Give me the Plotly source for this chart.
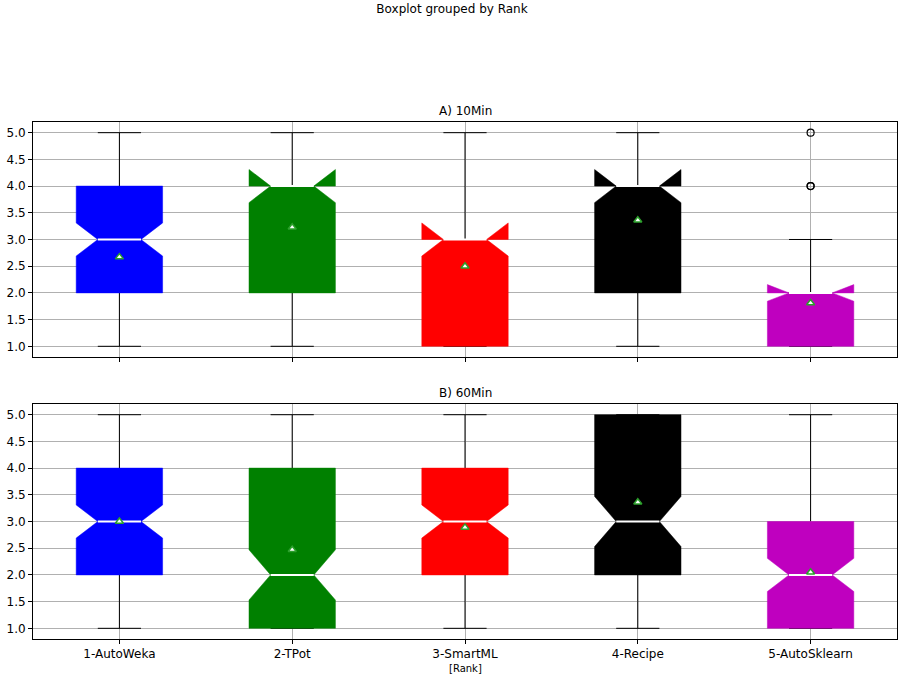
import plotly.graph_objects as go

categories = ["1-AutoWeka", "2-TPot", "3-SmartML", "4-Recipe", "5-AutoSklearn"]
positions = [1, 2, 3, 4, 5]
colors = ["#0000ff", "#008000", "#ff0000", "#000000", "#bf00bf"]
panel_titles = ["A) 10Min", "B) 60Min"]

# A) 10Min statistics
q1_10 = [2, 2, 1, 2, 1]
med_10 = [3, 4, 3, 4, 2]
q3_10 = [4, 4, 3, 4, 2]
wlo_10 = [1, 1, 1, 1, 1]
whi_10 = [5, 5, 5, 5, 3]
nlo_10 = [2.69, 3.69, 2.69, 3.69, 1.845]
nhi_10 = [3.31, 4.31, 3.31, 4.31, 2.155]
mean_10 = [2.67, 3.23, 2.50, 3.36, 1.81]
out_10 = [[], [], [], [], [4, 4, 5]]

# B) 60Min statistics
q1_60 = [2, 1, 2, 2, 1]
med_60 = [3, 2, 3, 3, 2]
q3_60 = [4, 4, 4, 5, 3]
wlo_60 = [1, 1, 1, 1, 1]
whi_60 = [5, 5, 5, 5, 5]
nlo_60 = [2.69, 1.53, 2.69, 2.53, 1.69]
nhi_60 = [3.31, 2.47, 3.31, 3.47, 2.31]
mean_60 = [3.00, 2.47, 2.89, 3.36, 2.05]
out_60 = [[], [], [], [], []]

panels = [
    (q1_10, med_10, q3_10, wlo_10, whi_10, nlo_10, nhi_10, mean_10, out_10),
    (q1_60, med_60, q3_60, wlo_60, whi_60, nlo_60, nhi_60, mean_60, out_60),
]

HALF = 0.25     # half box width
INSET = 0.125   # notch inset
CAP = 0.125     # half cap width

fig = go.Figure()

for pi, (q1, med, q3, wlo, whi, nlo, nhi, mean, outs) in enumerate(panels):
    xa = "x" if pi == 0 else "x2"
    ya = "y" if pi == 0 else "y2"
    # whiskers and caps
    wx, wy = [], []
    for i, p in enumerate(positions):
        wx += [p, p, None, p, p, None, p - CAP, p + CAP, None, p - CAP, p + CAP, None]
        wy += [q1[i], wlo[i], None, q3[i], whi[i], None, wlo[i], wlo[i], None, whi[i], whi[i], None]
    fig.add_trace(go.Scatter(x=wx, y=wy, mode="lines", line=dict(color="black", width=1),
                             xaxis=xa, yaxis=ya, hoverinfo="skip", showlegend=False))
    # notched boxes
    for i, p in enumerate(positions):
        L, R = p - HALF, p + HALF
        bx = [L, L, L + INSET, L, L, R, R, R - INSET, R, R, L]
        by = [q1[i], nlo[i], med[i], nhi[i], q3[i], q3[i], nhi[i], med[i], nlo[i], q1[i], q1[i]]
        fig.add_trace(go.Scatter(x=bx, y=by, mode="lines", fill="toself",
                                 fillcolor=colors[i], line=dict(color=colors[i], width=0.5),
                                 xaxis=xa, yaxis=ya, name=categories[i], showlegend=False))
    # medians
    mx, my = [], []
    for i, p in enumerate(positions):
        mx += [p - HALF + INSET, p + HALF - INSET, None]
        my += [med[i], med[i], None]
    fig.add_trace(go.Scatter(x=mx, y=my, mode="lines", line=dict(color="white", width=2),
                             xaxis=xa, yaxis=ya, hoverinfo="skip", showlegend=False))
    # means
    fig.add_trace(go.Scatter(x=positions, y=mean, mode="markers",
                             marker=dict(symbol="triangle-up", size=7, color="white",
                                         line=dict(color="#2ca02c", width=1.5)),
                             xaxis=xa, yaxis=ya, showlegend=False))
    # outliers
    ox, oy = [], []
    for i, p in enumerate(positions):
        for v in outs[i]:
            ox.append(p)
            oy.append(v)
    if ox:
        fig.add_trace(go.Scatter(x=ox, y=oy, mode="markers",
                                 marker=dict(symbol="circle-open", size=7, color="black",
                                             line=dict(width=1.2)),
                                 xaxis=xa, yaxis=ya, showlegend=False))

axis_common = dict(showline=True, linecolor="black", linewidth=1, mirror=True,
                   showgrid=True, gridcolor="#b0b0b0", gridwidth=1,
                   ticks="outside", ticklen=4, tickcolor="black", zeroline=False,
                   tickfont=dict(family="DejaVu Sans", size=12, color="black"))

fig.update_layout(
    width=904, height=680,
    margin=dict(l=33, r=7, t=122, b=41),
    paper_bgcolor="white", plot_bgcolor="white",
    font=dict(family="DejaVu Sans", color="black"),
    xaxis=dict(domain=[0, 1], anchor="y", range=[0.5, 5.5], tickvals=positions,
               ticktext=categories, showticklabels=False, **axis_common),
    yaxis=dict(domain=[0.5455, 1], anchor="x", range=[0.8, 5.2], tickvals=[1, 1.5, 2, 2.5, 3, 3.5, 4, 4.5, 5],
               tickformat=".1f", **axis_common),
    xaxis2=dict(domain=[0, 1], anchor="y2", range=[0.5, 5.5], tickvals=positions,
                ticktext=categories, matches="x", **axis_common),
    yaxis2=dict(domain=[0, 0.4545], anchor="x2", range=[0.8, 5.2], tickvals=[1, 1.5, 2, 2.5, 3, 3.5, 4, 4.5, 5],
                tickformat=".1f", **axis_common),
    title=dict(text="Boxplot grouped by Rank", x=0.5, xanchor="center", xref="container",
               y=1 - 5 / 680, yref="container", yanchor="top",
               font=dict(family="DejaVu Sans", size=12, color="black")),
    annotations=[
        dict(text=panel_titles[0], x=0.5, xref="paper", y=1, yref="paper", yanchor="bottom",
             yshift=2, showarrow=False, font=dict(family="DejaVu Sans", size=12, color="black")),
        dict(text=panel_titles[1], x=0.5, xref="paper", y=0.4545, yref="paper", yanchor="bottom",
             yshift=2, showarrow=False, font=dict(family="DejaVu Sans", size=12, color="black")),
        dict(text="[Rank]", x=0.5, xref="paper", y=0, yref="paper", yanchor="top",
             yshift=-22, showarrow=False, font=dict(family="DejaVu Sans", size=10, color="black")),
    ],
)

fig.write_html("out.html")
